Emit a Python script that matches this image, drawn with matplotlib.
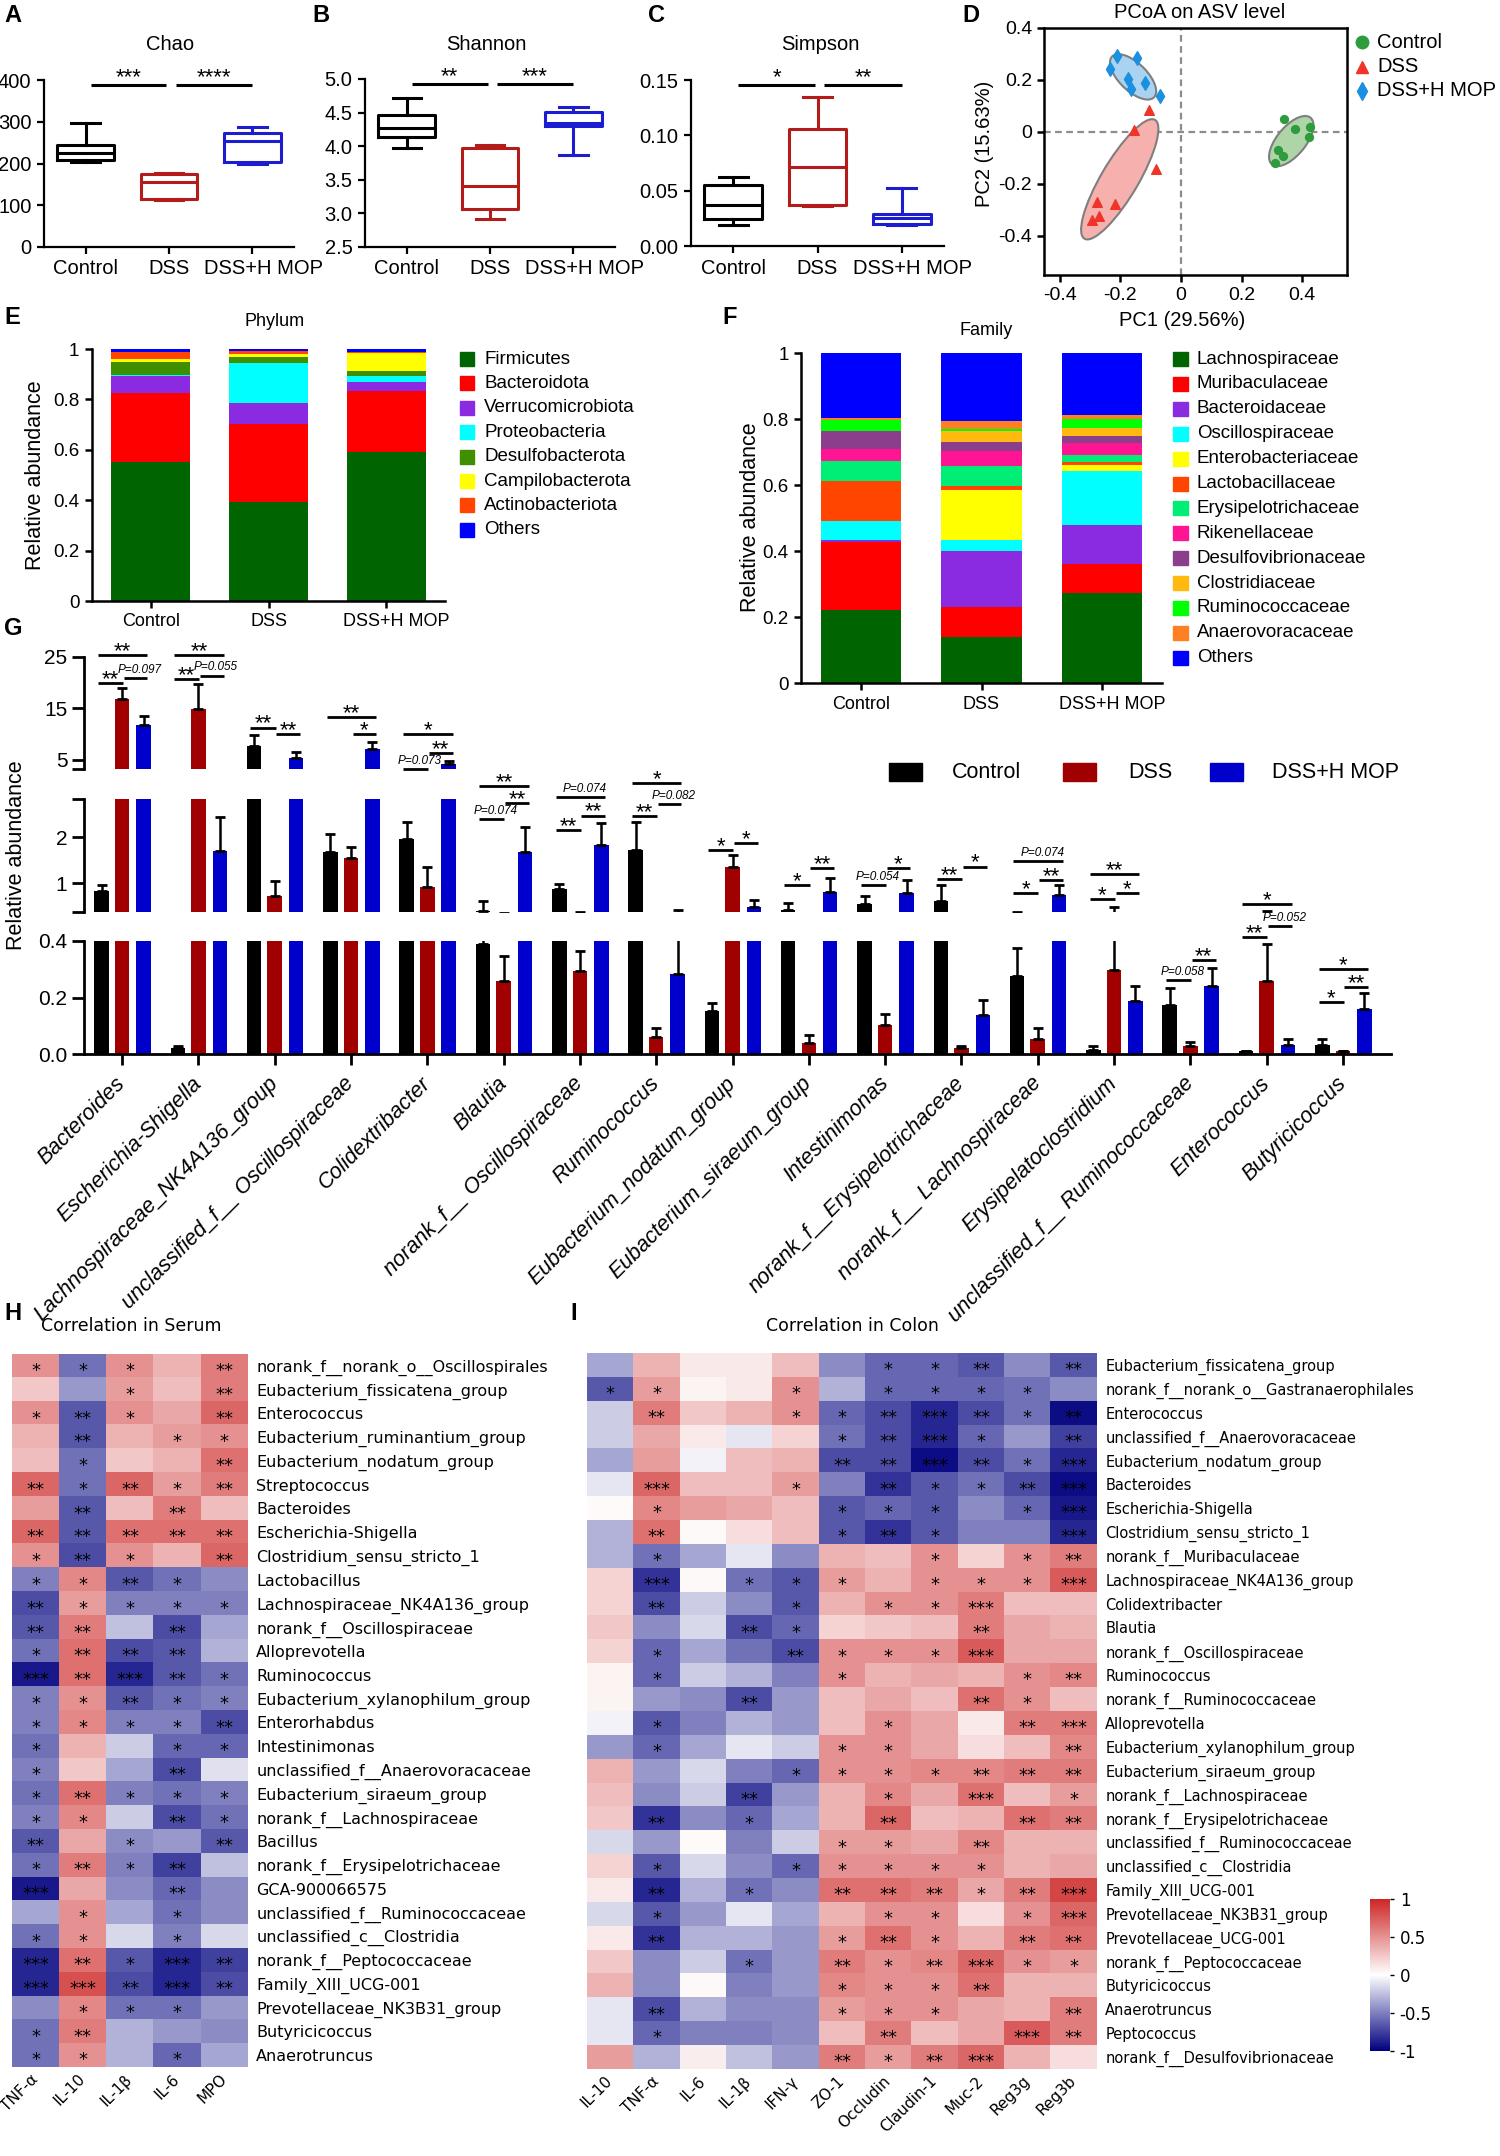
import numpy as np
import matplotlib
matplotlib.use("Agg")
import matplotlib.pyplot as plt
from matplotlib.patches import Ellipse, Rectangle
from matplotlib.colors import LinearSegmentedColormap

plt.rcParams['font.family'] = ['Liberation Sans', 'DejaVu Sans']
plt.rcParams['axes.unicode_minus'] = False

# ---------------- data ----------------
groups = ['Control', 'DSS', 'DSS+H MOP']

# A-C alpha diversity boxes: (whisker low, Q1, median, Q3, whisker high)
chao_box = [(203, 208, 225, 244, 296), (112, 116, 156, 175, 178), (199, 203, 253, 274, 288)]
shannon_box = [(3.98, 4.14, 4.27, 4.47, 4.71), (2.92, 3.07, 3.41, 3.97, 4.02), (3.87, 4.30, 4.35, 4.51, 4.58)]
simpson_box = [(0.019, 0.024, 0.037, 0.055, 0.062), (0.036, 0.037, 0.071, 0.106, 0.135),
               (0.019, 0.020, 0.025, 0.029, 0.052)]
chao_sig = ['***', '****']
shannon_sig = ['**', '***']
simpson_sig = ['*', '**']

# D PCoA
pc_ctrl_x = [0.339, 0.378, 0.426, 0.421, 0.321, 0.337, 0.312]
pc_ctrl_y = [0.051, 0.012, 0.018, -0.019, -0.071, -0.094, -0.120]
pc_dss_x = [-0.107, -0.156, -0.083, -0.278, -0.219, -0.270, -0.294]
pc_dss_y = [0.086, 0.009, -0.143, -0.271, -0.276, -0.323, -0.338]
pc_mop_x = [-0.211, -0.146, -0.235, -0.175, -0.118, -0.165, -0.070]
pc_mop_y = [0.294, 0.285, 0.243, 0.202, 0.187, 0.166, 0.140]
# ellipse: centre x, centre y, width, height, angle
ell_ctrl = (0.364, -0.035, 0.221, 0.100, 57)
ell_dss = (-0.202, -0.182, 0.513, 0.126, 63.5)
ell_mop = (-0.158, 0.212, 0.210, 0.098, -51)

# E phylum
phyla = ['Firmicutes', 'Bacteroidota', 'Verrucomicrobiota', 'Proteobacteria', 'Desulfobacterota',
         'Campilobacterota', 'Actinobacteriota', 'Others']
phylum_ctrl = [0.550, 0.274, 0.069, 0.003, 0.054, 0.010, 0.029, 0.011]
phylum_dss = [0.394, 0.308, 0.085, 0.159, 0.021, 0.013, 0.012, 0.008]
phylum_mop = [0.593, 0.242, 0.035, 0.023, 0.021, 0.071, 0.004, 0.011]
phylum_colors = ['#006400', '#FF0000', '#8A2BE2', '#00FFFF', '#3F8F00', '#FFFF00', '#FF4500', '#0000FF']

# F family
families = ['Lachnospiraceae', 'Muribaculaceae', 'Bacteroidaceae', 'Oscillospiraceae', 'Enterobacteriaceae',
            'Lactobacillaceae', 'Erysipelotrichaceae', 'Rikenellaceae', 'Desulfovibrionaceae',
            'Clostridiaceae', 'Ruminococcaceae', 'Anaerovoracaceae', 'Others']
family_ctrl = [0.220, 0.206, 0.008, 0.058, 0.000, 0.121, 0.061, 0.035, 0.054, 0.002, 0.033, 0.004, 0.198]
family_dss = [0.138, 0.092, 0.171, 0.033, 0.150, 0.012, 0.063, 0.045, 0.025, 0.036, 0.006, 0.022, 0.207]
family_mop = [0.273, 0.089, 0.116, 0.165, 0.018, 0.010, 0.019, 0.037, 0.020, 0.026, 0.027, 0.011, 0.189]
family_colors = ['#006400', '#FF0000', '#8A2BE2', '#00FFFF', '#FFFF00', '#FF4500', '#00EE76', '#FF1493',
                 '#8B3E8B', '#FFB90F', '#00FF00', '#FF7F24', '#0000FF']

# G genus level
genera = ['Bacteroides', 'Escherichia-Shigella', 'Lachnospiraceae_NK4A136_group',
          'unclassified_f__ Oscillospiraceae', 'Colidextribacter', 'Blautia', 'norank_f__ Oscillospiraceae',
          'Ruminococcus', 'Eubacterium_nodatum_group', 'Eubacterium_siraeum_group', 'Intestinimonas',
          'norank_f__Erysipelotrichaceae', 'norank_f__ Lachnospiraceae', 'Erysipelatoclostridium',
          'unclassified_f__ Ruminococcaceae', 'Enterococcus', 'Butyricicoccus']
ctrl_mean = [0.82, 0.020, 7.7, 1.67, 1.96, 0.388, 0.87, 1.71, 0.153, 0.42, 0.54, 0.62, 0.277, 0.014, 0.175, 0.009, 0.032]
ctrl_sd = [0.14, 0.010, 2.2, 0.40, 0.36, 0.23, 0.11, 0.63, 0.026, 0.15, 0.18, 0.33, 0.097, 0.013, 0.059, 0.003, 0.021]
dss_mean = [16.8, 14.9, 0.71, 1.54, 0.91, 0.26, 0.295, 0.059, 1.34, 0.038, 0.103, 0.020, 0.053, 0.299, 0.027, 0.26, 0.009]
dss_sd = [2.1, 4.9, 0.34, 0.24, 0.44, 0.087, 0.071, 0.034, 0.28, 0.03, 0.04, 0.008, 0.04, 0.19, 0.017, 0.13, 0.0]
mop_mean = [11.7, 1.70, 5.4, 7.1, 4.2, 1.67, 1.83, 0.282, 0.47, 0.81, 0.78, 0.138, 0.73, 0.186, 0.242, 0.032, 0.158]
mop_sd = [1.8, 0.74, 1.2, 1.3, 0.7, 0.56, 0.47, 0.14, 0.17, 0.29, 0.29, 0.053, 0.22, 0.056, 0.062, 0.022, 0.057]
# (genus, group a, group b, axis segment, y, label)
genus_sig = [
    (0, 0, 2, 0, 25.3, '**'), (0, 0, 1, 0, 20.0, '**'), (0, 1, 2, 0, 20.9, 'P=0.097'),
    (1, 0, 2, 0, 25.3, '**'), (1, 0, 1, 0, 20.7, '**'), (1, 1, 2, 0, 21.4, 'P=0.055'),
    (2, 0, 1, 0, 11.3, '**'), (2, 1, 2, 0, 10.0, '**'),
    (3, 0, 2, 0, 13.3, '**'), (3, 1, 2, 0, 10.0, '*'),
    (4, 0, 2, 0, 10.0, '*'), (4, 1, 2, 0, 6.3, '**'), (4, 0, 1, 0, 3.3, 'P=0.073'),
    (5, 0, 2, 1, 3.12, '**'), (5, 1, 2, 1, 2.74, '**'), (5, 0, 1, 1, 2.40, 'P=0.074'),
    (6, 0, 2, 1, 2.88, 'P=0.074'), (6, 1, 2, 1, 2.47, '**'), (6, 0, 1, 1, 2.16, '**'),
    (7, 0, 2, 1, 3.17, '*'), (7, 1, 2, 1, 2.72, 'P=0.082'), (7, 0, 1, 1, 2.46, '**'),
    (8, 0, 1, 1, 1.71, '*'), (8, 1, 2, 1, 1.88, '*'),
    (9, 0, 1, 1, 0.96, '*'), (9, 1, 2, 1, 1.33, '**'),
    (10, 0, 1, 1, 0.96, 'P=0.054'), (10, 1, 2, 1, 1.33, '*'),
    (11, 0, 1, 1, 1.09, '**'), (11, 1, 2, 1, 1.36, '*'),
    (12, 0, 2, 1, 1.47, 'P=0.074'), (12, 1, 2, 1, 1.07, '**'), (12, 0, 1, 1, 0.78, '*'),
    (13, 0, 2, 1, 1.20, '**'), (13, 0, 1, 1, 0.65, '*'), (13, 1, 2, 1, 0.78, '*'),
    (14, 0, 1, 2, 0.263, 'P=0.058'), (14, 1, 2, 2, 0.333, '**'),
    (15, 0, 2, 1, 0.54, '*'), (15, 1, 2, 2, 0.454, 'P=0.052'), (15, 0, 1, 2, 0.413, '**'),
    (16, 0, 2, 2, 0.301, '*'), (16, 1, 2, 2, 0.238, '**'), (16, 0, 1, 2, 0.183, '*'),
]

# H serum correlations
serum_rows = ['norank_f__norank_o__Oscillospirales', 'Eubacterium_fissicatena_group', 'Enterococcus',
              'Eubacterium_ruminantium_group', 'Eubacterium_nodatum_group', 'Streptococcus', 'Bacteroides',
              'Escherichia-Shigella', 'Clostridium_sensu_stricto_1', 'Lactobacillus',
              'Lachnospiraceae_NK4A136_group', 'norank_f__Oscillospiraceae', 'Alloprevotella', 'Ruminococcus',
              'Eubacterium_xylanophilum_group', 'Enterorhabdus', 'Intestinimonas',
              'unclassified_f__Anaerovoracaceae', 'Eubacterium_siraeum_group', 'norank_f__Lachnospiraceae',
              'Bacillus', 'norank_f__Erysipelotrichaceae', 'GCA-900066575', 'unclassified_f__Ruminococcaceae',
              'unclassified_c__Clostridia', 'norank_f__Peptococcaceae', 'Family_XIII_UCG-001',
              'Prevotellaceae_NK3B31_group', 'Butyricicoccus', 'Anaerotruncus']
serum_cols = ['TNF-α', 'IL-10', 'IL-1β', 'IL-6', 'MPO']
serum_r = [
    [0.50, -0.55, 0.50, 0.35, 0.60], [0.25, -0.40, 0.45, 0.30, 0.60], [0.50, -0.65, 0.50, 0.40, 0.70],
    [0.35, -0.65, 0.35, 0.45, 0.50], [0.30, -0.55, 0.25, 0.35, 0.65], [0.70, -0.55, 0.70, 0.45, 0.60],
    [0.45, -0.65, 0.30, 0.60, 0.30], [0.70, -0.65, 0.65, 0.65, 0.65], [0.50, -0.70, 0.50, 0.35, 0.70],
    [-0.50, 0.55, -0.65, -0.55, -0.45], [-0.70, 0.45, -0.50, -0.50, -0.50], [-0.65, 0.60, -0.25, -0.70, -0.35],
    [-0.55, 0.65, -0.70, -0.65, -0.30], [-0.90, 0.65, -0.85, -0.65, -0.55], [-0.50, 0.50, -0.65, -0.55, -0.50],
    [-0.50, 0.55, -0.50, -0.50, -0.70], [-0.55, 0.35, -0.20, -0.60, -0.60], [-0.50, 0.25, -0.35, -0.70, -0.12],
    [-0.55, 0.65, -0.50, -0.55, -0.50], [-0.50, 0.55, -0.20, -0.70, -0.55], [-0.65, 0.40, -0.45, -0.40, -0.65],
    [-0.55, 0.60, -0.50, -0.75, -0.25], [-0.90, 0.40, -0.45, -0.60, -0.45], [-0.35, 0.50, -0.35, -0.55, -0.45],
    [-0.55, 0.50, -0.15, -0.50, -0.15], [-0.85, 0.65, -0.65, -0.85, -0.75], [-0.85, 0.80, -0.70, -0.85, -0.70],
    [-0.45, 0.55, -0.55, -0.55, -0.40], [-0.55, 0.60, -0.30, -0.40, -0.45], [-0.55, 0.50, -0.30, -0.60, -0.35],
]
serum_sig = [
    [1, 1, 1, 0, 2], [0, 0, 1, 0, 2], [1, 2, 1, 0, 2], [0, 2, 0, 1, 1], [0, 1, 0, 0, 2],
    [2, 1, 2, 1, 2], [0, 2, 0, 2, 0], [2, 2, 2, 2, 2], [1, 2, 1, 0, 2], [1, 1, 2, 1, 0],
    [2, 1, 1, 1, 1], [2, 2, 0, 2, 0], [1, 2, 2, 2, 0], [3, 2, 3, 2, 1], [1, 1, 2, 1, 1],
    [1, 1, 1, 1, 2], [1, 0, 0, 1, 1], [1, 0, 0, 2, 0], [1, 2, 1, 1, 1], [1, 1, 0, 2, 1],
    [2, 0, 1, 0, 2], [1, 2, 1, 2, 0], [3, 0, 0, 2, 0], [0, 1, 0, 1, 0], [1, 1, 0, 1, 0],
    [3, 2, 1, 3, 2], [3, 3, 2, 3, 2], [0, 1, 1, 1, 0], [1, 2, 0, 0, 0], [1, 1, 0, 1, 0],
]

# I colon correlations
colon_rows = ['Eubacterium_fissicatena_group', 'norank_f__norank_o__Gastranaerophilales', 'Enterococcus',
              'unclassified_f__Anaerovoracaceae', 'Eubacterium_nodatum_group', 'Bacteroides',
              'Escherichia-Shigella', 'Clostridium_sensu_stricto_1', 'norank_f__Muribaculaceae',
              'Lachnospiraceae_NK4A136_group', 'Colidextribacter', 'Blautia', 'norank_f__Oscillospiraceae',
              'Ruminococcus', 'norank_f__Ruminococcaceae', 'Alloprevotella', 'Eubacterium_xylanophilum_group',
              'Eubacterium_siraeum_group', 'norank_f__Lachnospiraceae', 'norank_f__Erysipelotrichaceae',
              'unclassified_f__Ruminococcaceae', 'unclassified_c__Clostridia', 'Family_XIII_UCG-001',
              'Prevotellaceae_NK3B31_group', 'Prevotellaceae_UCG-001', 'norank_f__Peptococcaceae',
              'Butyricicoccus', 'Anaerotruncus', 'Peptococcus', 'norank_f__Desulfovibrionaceae']
colon_cols = ['IL-10', 'TNF-α', 'IL-6', 'IL-1β', 'IFN-γ', 'ZO-1', 'Occludin', 'Claudin-1', 'Muc-2', 'Reg3g', 'Reg3b']
colon_r = [
    [-0.35, 0.35, 0.10, 0.10, 0.30, -0.45, -0.60, -0.60, -0.65, -0.45, -0.65],
    [-0.65, 0.45, 0.05, 0.10, 0.50, -0.30, -0.60, -0.60, -0.60, -0.55, -0.45],
    [-0.20, 0.60, 0.25, 0.35, 0.50, -0.60, -0.70, -0.85, -0.70, -0.55, -0.95],
    [-0.20, 0.40, 0.10, -0.10, 0.20, -0.55, -0.70, -0.85, -0.60, -0.40, -0.75],
    [-0.35, 0.45, -0.05, 0.30, 0.35, -0.70, -0.70, -0.95, -0.70, -0.55, -0.85],
    [-0.10, 0.70, 0.30, 0.30, 0.45, -0.50, -0.80, -0.65, -0.55, -0.70, -0.95],
    [0.02, 0.55, 0.45, 0.40, 0.30, -0.65, -0.60, -0.65, -0.45, -0.60, -0.90],
    [-0.30, 0.65, 0.03, 0.15, 0.30, -0.65, -0.80, -0.65, -0.50, -0.50, -0.85],
    [-0.30, -0.55, -0.35, -0.10, -0.45, 0.35, 0.30, 0.50, 0.20, 0.50, 0.60],
    [0.20, -0.80, 0.03, -0.55, -0.65, 0.45, 0.35, 0.50, 0.50, 0.50, 0.75],
    [0.20, -0.70, -0.20, -0.45, -0.65, 0.35, 0.50, 0.50, 0.60, 0.30, 0.30],
    [0.25, -0.45, -0.15, -0.70, -0.60, 0.20, 0.25, 0.30, 0.60, 0.40, 0.35],
    [0.20, -0.60, -0.35, -0.55, -0.70, 0.50, 0.50, 0.50, 0.75, 0.40, 0.40],
    [0.05, -0.60, -0.20, -0.30, -0.50, 0.50, 0.35, 0.40, 0.35, 0.50, 0.55],
    [0.05, -0.40, -0.45, -0.70, -0.40, 0.30, 0.40, 0.30, 0.65, 0.50, 0.30],
    [-0.05, -0.65, -0.50, -0.30, -0.40, 0.30, 0.50, 0.40, 0.10, 0.60, 0.60],
    [-0.40, -0.60, -0.35, -0.10, -0.20, 0.50, 0.50, 0.40, 0.15, 0.30, 0.55],
    [0.35, -0.40, -0.15, -0.50, -0.60, 0.50, 0.50, 0.55, 0.55, 0.60, 0.60],
    [0.30, -0.45, -0.20, -0.75, -0.40, 0.35, 0.55, 0.40, 0.65, 0.30, 0.45],
    [0.25, -0.80, -0.45, -0.60, -0.35, 0.35, 0.70, 0.30, 0.35, 0.65, 0.60],
    [-0.15, -0.40, 0.02, -0.50, -0.20, 0.45, 0.45, 0.40, 0.55, 0.35, 0.35],
    [0.20, -0.65, -0.15, -0.45, -0.60, 0.50, 0.50, 0.50, 0.50, 0.35, 0.40],
    [0.10, -0.85, -0.30, -0.55, -0.45, 0.65, 0.65, 0.60, 0.40, 0.60, 0.85],
    [-0.15, -0.65, -0.40, -0.10, -0.35, 0.35, 0.50, 0.50, 0.15, 0.50, 0.70],
    [0.10, -0.80, -0.30, -0.30, -0.40, 0.45, 0.65, 0.50, 0.35, 0.60, 0.65],
    [0.25, -0.45, -0.20, -0.55, -0.40, 0.60, 0.50, 0.55, 0.70, 0.50, 0.45],
    [0.35, -0.45, 0.03, -0.50, -0.40, 0.55, 0.50, 0.50, 0.65, 0.35, 0.35],
    [-0.10, -0.70, -0.30, -0.45, -0.45, 0.45, 0.50, 0.50, 0.40, 0.35, 0.60],
    [-0.10, -0.60, -0.50, -0.50, -0.45, 0.30, 0.60, 0.30, 0.40, 0.75, 0.60],
    [0.45, -0.30, 0.08, -0.25, -0.40, 0.60, 0.45, 0.60, 0.70, 0.35, 0.15],
]
colon_sig = [
    [0, 0, 0, 0, 0, 0, 1, 1, 2, 0, 2], [1, 1, 0, 0, 1, 0, 1, 1, 1, 1, 0], [0, 2, 0, 0, 1, 1, 2, 3, 2, 1, 2],
    [0, 0, 0, 0, 0, 1, 2, 3, 1, 0, 2], [0, 0, 0, 0, 0, 2, 2, 3, 2, 1, 3], [0, 3, 0, 0, 1, 0, 2, 1, 1, 2, 3],
    [0, 1, 0, 0, 0, 1, 1, 1, 0, 1, 3], [0, 2, 0, 0, 0, 1, 2, 1, 0, 0, 3], [0, 1, 0, 0, 0, 0, 0, 1, 0, 1, 2],
    [0, 3, 0, 1, 1, 1, 0, 1, 1, 1, 3], [0, 2, 0, 0, 1, 0, 1, 1, 3, 0, 0], [0, 0, 0, 2, 1, 0, 0, 0, 2, 0, 0],
    [0, 1, 0, 0, 2, 1, 1, 1, 3, 0, 0], [0, 1, 0, 0, 0, 1, 0, 0, 0, 1, 2], [0, 0, 0, 2, 0, 0, 0, 0, 2, 1, 0],
    [0, 1, 0, 0, 0, 0, 1, 0, 0, 2, 3], [0, 1, 0, 0, 0, 1, 1, 0, 0, 0, 2], [0, 0, 0, 0, 1, 1, 1, 1, 2, 2, 2],
    [0, 0, 0, 2, 0, 0, 1, 0, 3, 0, 1], [0, 2, 0, 1, 0, 0, 2, 0, 0, 2, 2], [0, 0, 0, 0, 0, 1, 1, 0, 2, 0, 0],
    [0, 1, 0, 0, 1, 1, 1, 1, 1, 0, 0], [0, 2, 0, 1, 0, 2, 2, 2, 1, 2, 3], [0, 1, 0, 0, 0, 0, 1, 1, 0, 1, 3],
    [0, 2, 0, 0, 0, 1, 2, 1, 0, 2, 2], [0, 0, 0, 1, 0, 2, 1, 2, 3, 1, 1], [0, 0, 0, 0, 0, 1, 1, 1, 2, 0, 0],
    [0, 2, 0, 0, 0, 1, 1, 1, 0, 0, 2], [0, 1, 0, 0, 0, 0, 2, 0, 0, 3, 2], [0, 0, 0, 0, 0, 2, 1, 2, 3, 0, 0],
]

# ---------------- layout helpers ----------------
W, H = 1500, 2156
fig = plt.figure(figsize=(W / 100, H / 100), dpi=100)


def box(l, t, r, b):
    return [l / W, 1 - b / H, (r - l) / W, (b - t) / H]


def ftext(x, y, s, **kw):
    kw.setdefault('ha', 'center')
    kw.setdefault('va', 'center')
    fig.text(x / W, 1 - y / H, s, **kw)


def letter(x, y, s):
    ftext(x, y, s, fontsize=17, fontweight='bold', ha='left')


def clean(ax, lw=1.6):
    for s in ['top', 'right']:
        ax.spines[s].set_visible(False)
    for s in ['left', 'bottom']:
        ax.spines[s].set_linewidth(lw)
    ax.tick_params(width=lw, colors='black')


def group_labels(ax, fs, shift, pad):
    # tick marks at the groups, labels (the last one a little to the right) on minor ticks
    ax.xaxis.remove_overlapping_locs = False
    ax.set_xticks([1, 2, 3])
    ax.set_xticklabels([])
    ax.set_xticks([1, 2, 3 + shift], minor=True)
    ax.set_xticklabels(groups, minor=True, fontsize=fs)
    ax.tick_params(axis='x', which='minor', length=0, pad=pad)


# ---------------- A-C ----------------
box_colors = ['#000000', '#B41C1C', '#1C1CD0']


def alpha_panel(rect, boxes, ylim, ticks, tlabels, sig):
    ax = fig.add_axes(box(*rect))
    stats = [dict(whislo=b[0], q1=b[1], med=b[2], q3=b[3], whishi=b[4], fliers=[]) for b in boxes]
    art = ax.bxp(stats, positions=[1, 2, 3], widths=0.68, showfliers=False)
    for k, c in enumerate(box_colors):
        art['boxes'][k].set(color=c, lw=2.2)
        art['medians'][k].set(color=c, lw=2.2)
        for ln in art['whiskers'][2 * k:2 * k + 2] + art['caps'][2 * k:2 * k + 2]:
            ln.set(color=c, lw=2.2)
    ax.set_xlim(0.5, 3.5)
    ax.set_ylim(*ylim)
    ax.set_yticks(ticks)
    ax.set_yticklabels(tlabels, fontsize=14.5)
    clean(ax)
    ax.tick_params(length=5, pad=4)
    group_labels(ax, 14.5, 0.13, 9)
    ytop = ylim[0] + (ylim[1] - ylim[0]) * 0.97
    for (x1, x2), s in zip([(1.06, 1.97), (2.08, 3.0)], sig):
        ax.plot([x1, x2], [ytop, ytop], color='black', lw=2.2, clip_on=False, solid_capstyle='butt')
        ax.annotate(s, ((x1 + x2) / 2, ytop), xytext=(0, 1), textcoords='offset points',
                    ha='center', va='baseline', fontsize=16)
    return ax


alpha_panel((44, 80, 294, 247), chao_box, (0, 400), [0, 100, 200, 300, 400],
            ['0', '100', '200', '300', '400'], chao_sig)
alpha_panel((365, 79, 615, 247), shannon_box, (2.5, 5.0), [2.5, 3.0, 3.5, 4.0, 4.5, 5.0],
            ['2.5', '3.0', '3.5', '4.0', '4.5', '5.0'], shannon_sig)
alpha_panel((691, 80, 944, 246), simpson_box, (0, 0.15), [0, 0.05, 0.10, 0.15],
            ['0.00', '0.05', '0.10', '0.15'], simpson_sig)
ftext(170, 45, 'Chao', fontsize=14.5)
ftext(486, 45, 'Shannon', fontsize=14.5)
ftext(820, 45, 'Simpson', fontsize=14.5)
letter(4, 15, 'A')
letter(312, 15, 'B')
letter(648, 15, 'C')
letter(962, 15, 'D')

# ---------------- D ----------------
axd = fig.add_axes(box(1044, 28, 1347, 275))
for e, c in [(ell_mop, '#A9D3F0'), (ell_dss, '#F6B0AE'), (ell_ctrl, '#ADD5A8')]:
    axd.add_patch(Ellipse((e[0], e[1]), e[2], e[3], angle=e[4], facecolor=c, edgecolor='#7F7F7F', lw=1.5, zorder=1))
axd.axvline(0, color='#8C8C8C', ls=(0, (3, 2)), lw=1.6, zorder=0)
axd.axhline(0, color='#8C8C8C', ls=(0, (3, 2)), lw=1.6, zorder=0)
axd.scatter(pc_ctrl_x, pc_ctrl_y, s=32, marker='o', color='#2E9B3C', zorder=3)
axd.scatter(pc_dss_x, pc_dss_y, s=48, marker='^', color='#F0342A', zorder=3)
axd.scatter(pc_mop_x, pc_mop_y, s=48, marker='d', color='#1B8FE0', zorder=3)
axd.set_xlim(-0.452, 0.548)
axd.set_ylim(-0.55, 0.4)
axd.set_xticks([-0.4, -0.2, 0, 0.2, 0.4])
axd.set_xticklabels(['-0.4', '-0.2', '0', '0.2', '0.4'], fontsize=14)
axd.set_yticks([-0.4, -0.2, 0, 0.2, 0.4])
axd.set_yticklabels(['-0.4', '-0.2', '0', '0.2', '0.4'], fontsize=14)
for s in axd.spines.values():
    s.set_linewidth(1.8)
axd.tick_params(width=1.8, length=5)
ftext(1200, 13, 'PCoA on ASV level', fontsize=14.5)
ftext(1182, 320, 'PC1 (29.56%)', fontsize=14.5)
ftext(985, 144, 'PC2 (15.63%)', fontsize=14.5, rotation=90)
for y, lab, m, c in [(42, 'Control', 'o', '#2E9B3C'), (67, 'DSS', '^', '#F0342A'), (91, 'DSS+H MOP', 'd', '#1B8FE0')]:
    fig.lines.append(plt.Line2D([1362 / W], [1 - y / H], marker=m, color=c, ms=9, ls='none',
                                transform=fig.transFigure))
    ftext(1377, y, lab, fontsize=14.5, ha='left')


# ---------------- E & F ----------------
def stacked(rect, series, colors, title, title_xy, ylab_xy):
    ax = fig.add_axes(box(*rect))
    bottoms = np.zeros(3)
    for k in range(len(colors)):
        vals = np.array([s[k] for s in series])
        ax.bar([1, 2, 3], vals, 0.67, bottom=bottoms, color=colors[k], linewidth=0)
        bottoms += vals
    ax.set_xlim(0.5, 3.5)
    ax.set_ylim(0, 1)
    ax.set_yticks([0, 0.2, 0.4, 0.6, 0.8, 1])
    ax.set_yticklabels(['0', '0.2', '0.4', '0.6', '0.8', '1'], fontsize=13.5)
    clean(ax, 1.8)
    ax.tick_params(length=5, pad=4)
    group_labels(ax, 13, 0.085, 9)
    ftext(title_xy[0], title_xy[1], title, fontsize=13)
    ftext(ylab_xy[0], ylab_xy[1], 'Relative abundance', fontsize=15.5, rotation=90)
    return ax


def square_legend(names, colors, xs, xt, y0, dy, w, h, fs):
    for k, (n, c) in enumerate(zip(names, colors)):
        y = y0 + k * dy
        fig.patches.append(Rectangle((xs / W, 1 - (y + h / 2) / H), w / W, h / H, color=c,
                                     transform=fig.transFigure))
        ftext(xt, y, n, fontsize=fs, ha='left')


stacked((92, 349, 445, 601), [phylum_ctrl, phylum_dss, phylum_mop], phylum_colors, 'Phylum', (275, 322), (36, 475))
square_legend(phyla, phylum_colors, 460, 484, 359, 24.4, 14, 14, 13.5)
stacked((801, 353, 1162, 683), [family_ctrl, family_dss, family_mop], family_colors, 'Family', (986, 330), (750, 517))
square_legend(families, family_colors, 1173, 1197, 359, 24.9, 15, 14, 13.5)
letter(4, 317, 'E')
letter(722, 317, 'F')
letter(4, 628, 'G')

# ---------------- G ----------------
bar_colors = ['#000000', '#A10000', '#0000CC']
offsets = [-0.27, 0.0, 0.28]
seg_rects = [(84, 657, 1391, 769), (84, 799, 1391, 912), (84, 941, 1391, 1054)]
seg_lims = [(3.25, 25), (0.37, 2.83), (0, 0.4)]
seg_ticks = [[3.25, 5, 15, 25], [0.37, 1, 2, 2.83], [0, 0.2, 0.4]]
seg_labels = [['', '5', '15', '25'], ['', '1', '2', ''], ['0.0', '0.2', '0.4']]
xg = np.arange(len(genera))
seg_axes = []
for si in range(3):
    ax = fig.add_axes(box(*seg_rects[si]))
    ax.patch.set_visible(False)
    for gi, (m, sd) in enumerate([(ctrl_mean, ctrl_sd), (dss_mean, dss_sd), (mop_mean, mop_sd)]):
        ax.bar(xg + offsets[gi], m, 0.19, color=bar_colors[gi], linewidth=0)
        ax.errorbar(xg + offsets[gi], m, yerr=[np.zeros(len(m)), sd], fmt='none', ecolor='black',
                    elinewidth=1.8, capsize=3.5, capthick=2)
    ax.set_xlim(-0.5, 16.63)
    ax.set_ylim(*seg_lims[si])
    ax.set_yticks(seg_ticks[si])
    ax.set_yticklabels(seg_labels[si], fontsize=15)
    for s in ['top', 'right']:
        ax.spines[s].set_visible(False)
    ax.spines['left'].set_linewidth(2)
    ax.tick_params(axis='y', width=2, length=9, pad=3)
    if si < 2:
        ax.spines['bottom'].set_visible(False)
        ax.set_xticks([])
    else:
        ax.spines['bottom'].set_linewidth(2)
        ax.set_xticks(xg)
        ax.set_xticklabels(genera, rotation=45, ha='right', va='center', rotation_mode='anchor',
                           fontsize=15.5, style='italic')
        ax.tick_params(axis='x', width=2, length=8, pad=11)
    seg_axes.append(ax)

for gi, a, b, si, y, lab in genus_sig:
    ax = seg_axes[si]
    x1 = gi + offsets[a] - 0.05 + (0.07 if a == 1 else 0)
    x2 = gi + offsets[b] + 0.05 - (0.04 if b == 1 else 0)
    ax.plot([x1, x2], [y, y], color='black', lw=2, clip_on=False, solid_capstyle='butt')
    if lab.startswith('P'):
        ax.annotate(lab, ((x1 + x2) / 2, y), xytext=(3, 1.5), textcoords='offset points', ha='center',
                    va='bottom', fontsize=8.5, style='italic', annotation_clip=False)
    else:
        ax.annotate(lab, ((x1 + x2) / 2, y), xytext=(0, -1.5), textcoords='offset points', ha='center',
                    va='baseline', fontsize=16, annotation_clip=False)

ftext(17, 855, 'Relative abundance', fontsize=15.5, rotation=90)
for xs, xt, lab, c in [(889, 952, 'Control', bar_colors[0]), (1063, 1128, 'DSS', bar_colors[1]),
                       (1210, 1272, 'DSS+H MOP', bar_colors[2])]:
    fig.patches.append(Rectangle((xs / W, 1 - 781 / H), 33 / W, 18 / H, color=c, transform=fig.transFigure))
    ftext(xt, 772, lab, fontsize=15.5, ha='left')

# ---------------- H & I heatmaps ----------------
cmap = LinearSegmentedColormap.from_list('pheat', ['#000080', '#FFFFFF', '#CD2626'])


def heatmap(rect, vals, sig, rows, cols, row_fs, col_fs):
    ax = fig.add_axes(box(*rect))
    im = ax.imshow(np.array(vals), cmap=cmap, vmin=-1, vmax=1, aspect='auto', interpolation='nearest')
    for i, row in enumerate(sig):
        for j, n in enumerate(row):
            if n:
                ax.text(j, i + 0.22, '*' * n, ha='center', va='center', fontsize=13, family='DejaVu Sans')
    ax.set_xticks(range(len(cols)))
    ax.set_xticklabels(cols, rotation=45, ha='right', va='center', rotation_mode='anchor',
                       fontsize=col_fs, family='DejaVu Sans')
    ax.set_yticks(range(len(rows)))
    ax.yaxis.tick_right()
    ax.set_yticklabels(rows, fontsize=row_fs, family='DejaVu Sans')
    ax.tick_params(length=0)
    ax.tick_params(axis='y', pad=6)
    ax.tick_params(axis='x', pad=7)
    for s in ax.spines.values():
        s.set_visible(False)
    return im


heatmap((12, 1354, 248, 2067), serum_r, serum_sig, serum_rows, serum_cols, 11.5, 11)
im = heatmap((587, 1353, 1097, 2069), colon_r, colon_sig, colon_rows, colon_cols, 10.5, 11)
ftext(131, 1326, 'Correlation in Serum', fontsize=12.5, family='DejaVu Sans')
ftext(852, 1326, 'Correlation in Colon', fontsize=12.5, family='DejaVu Sans')
letter(4, 1314, 'H')
letter(570, 1314, 'I')

cax = fig.add_axes(box(1370, 1899, 1390, 2051))
cb = fig.colorbar(im, cax=cax, ticks=[-1, -0.5, 0, 0.5, 1])
cb.outline.set_visible(False)
cax.set_yticklabels(['-1', '-0.5', '0', '0.5', '1'], fontsize=12, family='DejaVu Sans')
cax.tick_params(length=3, width=1, pad=4)

fig.savefig('out.png', dpi=100)
